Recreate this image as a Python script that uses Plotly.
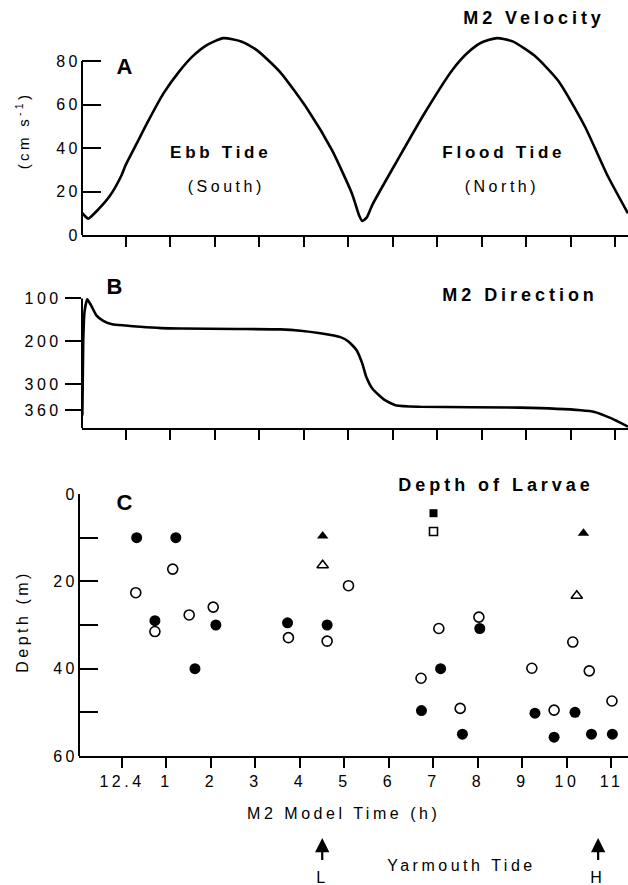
import plotly.graph_objects as go

# ---------------- data ----------------
# M2 model time in hours (12.4 == 0)
tick_hours = list(range(12))
tick_labels = ["12.4", "1", "2", "3", "4", "5", "6", "7", "8", "9", "10", "11"]

# Panel A: M2 velocity (cm/s)
vel_time = [-0.97, -0.90, -0.84, -0.60, -0.35, -0.10, 0.0, 0.25, 0.50, 0.85, 1.20, 1.50, 1.80,
            2.20, 2.60, 2.95, 3.47, 4.10, 4.64, 5.09, 5.25, 5.32, 5.42, 5.55, 6.10, 6.72,
            7.35, 7.70, 8.00, 8.35, 8.70, 9.19, 9.72, 10.32, 10.84, 11.29]
vel_cms = [10, 8.5, 7.5, 12, 18, 27, 32, 42, 52, 65, 75, 82, 87,
           90.5, 89, 85, 75, 57.5, 39, 19, 9, 6.5, 8, 14, 34, 56,
           76, 84, 88.5, 90.5, 89, 82.5, 71, 50, 27, 10]

# Panel B: M2 direction (degrees)
dir_time = [-0.97, -0.95, -0.92, -0.86, -0.78, -0.65, -0.50, -0.30, 0.0, 0.33, 0.80, 1.23, 2.50,
            3.48, 3.93, 4.38, 4.83, 5.01, 5.19, 5.32, 5.41, 5.55, 5.82, 6.09, 6.63, 8.88,
            10.23, 10.54, 10.92, 11.29]
dir_deg = [372, 200, 130, 102, 115, 140, 152, 160, 163, 166, 169, 170, 171,
           172, 175, 181, 190, 200, 220, 251, 282, 310, 336, 349, 352, 354,
           360, 364, 379, 398]

# Panel C: depth of larvae (m)
filled_circle_t = [0.33, 1.21, 0.74, 2.11, 1.64, 3.72, 4.61, 7.16, 6.73, 7.65, 8.04, 9.28, 9.71, 10.18, 10.55, 11.02]
filled_circle_d = [10, 10, 29, 30, 40, 29.5, 30, 40, 49.6, 55, 30.8, 50.2, 55.7, 50, 55, 55]
open_circle_t = [0.31, 1.14, 0.74, 1.51, 2.05, 3.74, 4.61, 5.09, 7.12, 6.72, 7.60, 8.02, 9.21, 9.71, 10.13, 10.50, 11.01]
open_circle_d = [22.6, 17.2, 31.5, 27.7, 25.9, 32.9, 33.7, 21, 30.8, 42.2, 49.1, 28.2, 39.9, 49.5, 33.9, 40.5, 47.4]
filled_tri_t = [4.51, 10.37]
filled_tri_d = [9.6, 9.0]
open_tri_t = [4.51, 10.22]
open_tri_d = [16.3, 23.3]
filled_sq_t = [7.0]
filled_sq_d = [4.4]
open_sq_t = [7.0]
open_sq_d = [8.6]

# Yarmouth tide marks
tide_marks = [("L", 4.5), ("H", 10.7)]

# ---------------- figure ----------------
W, H = 628, 885
FONT = "Liberation Sans, Arial, Helvetica, sans-serif"


def px(x):
    return x / W


def py(y):
    return 1 - y / H


fig = go.Figure()

fig.add_trace(go.Scatter(x=vel_time, y=vel_cms, mode="lines",
                         line=dict(color="black", width=2.6, shape="spline", smoothing=0.6),
                         xaxis="x", yaxis="y", showlegend=False, hoverinfo="skip"))
fig.add_trace(go.Scatter(x=dir_time, y=dir_deg, mode="lines",
                         line=dict(color="black", width=2.6, shape="spline", smoothing=0.5),
                         xaxis="x2", yaxis="y2", showlegend=False, hoverinfo="skip"))

marker_sets = [
    (filled_circle_t, filled_circle_d, dict(symbol="circle", size=11, color="black")),
    (open_circle_t, open_circle_d, dict(symbol="circle-open", size=10, color="black", line=dict(width=1.6))),
    (filled_tri_t, filled_tri_d, dict(symbol="triangle-up", size=10, color="black")),
    (open_tri_t, open_tri_d, dict(symbol="triangle-up-open", size=10, color="black", line=dict(width=1.5))),
    (filled_sq_t, filled_sq_d, dict(symbol="square", size=8, color="black")),
    (open_sq_t, open_sq_d, dict(symbol="square-open", size=8, color="black", line=dict(width=1.6))),
]
for t, d, m in marker_sets:
    fig.add_trace(go.Scatter(x=t, y=d, mode="markers", marker=m, xaxis="x3", yaxis="y3",
                             showlegend=False, hoverinfo="skip"))

xcommon = dict(tickvals=tick_hours, ticks="outside", ticklen=10, tickwidth=2, tickcolor="black",
               showline=True, linewidth=2, linecolor="black", showgrid=False, zeroline=False,
               automargin=False, fixedrange=True)
ycommon = dict(tickwidth=2, tickcolor="black", showline=False, showgrid=False, zeroline=False,
               automargin=False, fixedrange=True, tickfont=dict(size=16, color="black"))

fig.update_layout(
    width=W, height=H, margin=dict(l=0, r=0, t=0, b=0),
    paper_bgcolor="white", plot_bgcolor="white",
    font=dict(family=FONT, color="black", size=15),
    xaxis=dict(domain=[px(82), 1], range=[-0.9775, 11.292], anchor="y", showticklabels=False, **xcommon),
    yaxis=dict(domain=[py(235), py(30)], range=[0, 94.25], anchor="x",
               tickvals=[0, 20, 40, 60, 80], ticks="inside", ticklen=19, **ycommon),
    xaxis2=dict(domain=[px(82), 1], range=[-0.9775, 11.292], anchor="y2", showticklabels=False, **xcommon),
    yaxis2=dict(domain=[py(428.3), py(290)], range=[402, 80.4], anchor="x2",
                tickvals=[100, 200, 300, 360], ticks="outside", ticklen=16, **ycommon),
    xaxis3=dict(domain=[px(79), 1], range=[-0.966, 11.371], anchor="y3", showticklabels=True,
                ticktext=tick_labels, tickfont=dict(size=16, color="black"), **xcommon),
    yaxis3=dict(domain=[py(756), py(494)], range=[60, 0], anchor="x3",
                tickvals=[0, 20, 40, 60], ticks="inside", ticklen=19,
                minor=dict(tickvals=[10, 30, 50], ticks="inside", ticklen=19, tickwidth=2,
                           tickcolor="black", showgrid=False),
                **ycommon),
)

# y-axis lines (only over the labelled span)
for xr, yr, y0, y1 in [("x domain", "y", 0, 80), ("x2 domain", "y2", 100, 402), ("x3 domain", "y3", 0, 60)]:
    fig.add_shape(type="line", xref=xr, yref=yr, x0=0, x1=0, y0=y0, y1=y1,
                  line=dict(color="black", width=2))


def txt(s, x, y, size, angle=0):
    fig.add_annotation(text=s, x=px(x), y=py(y), xref="paper", yref="paper", showarrow=False,
                       xanchor="center", yanchor="middle", textangle=angle,
                       font=dict(size=size, color="black", family=FONT))


txt("<b>M2 Velocity</b>", 534, 18, 18)
txt("<b>A</b>", 127, 67, 22)
txt("<b>Ebb Tide</b>", 220, 153, 17)
txt("(South)", 226, 186, 16)
txt("<b>Flood Tide</b>", 504, 153, 17)
txt("(North)", 502, 186, 16)
txt("(cm s<sup>-1</sup>)", 22, 131, 15, -90)
txt("<b>B</b>", 117, 286, 22)
txt("<b>M2 Direction</b>", 520, 295, 18)
txt("<b>C</b>", 127, 502, 22)
txt("<b>Depth of Larvae</b>", 496, 485, 18)
txt("Depth (m)", 22, 622, 16, -90)
txt("M2 Model Time (h)", 343, 813, 16)
txt("Yarmouth Tide", 462, 865, 16)

for lab, t in tide_marks:
    fig.add_annotation(text=lab, x=t, y=py(838), xref="x3", yref="paper", showarrow=True,
                       ax=0, ay=39, arrowhead=2, arrowsize=1.3, arrowwidth=2.2, arrowcolor="black",
                       startstandoff=7, font=dict(size=16, color="black", family=FONT))

post = """
(function(){
  var gd = document.getElementById('{plot_id}');
  function sp(){
    var ts = gd.querySelectorAll('svg text');
    for (var i = 0; i < ts.length; i++) { ts[i].style.letterSpacing = '0.22em'; }
  }
  sp();
  if (gd.on) { gd.on('plotly_afterplot', sp); }
})();
"""

fig.write_html("out.html", config={"displayModeBar": False}, post_script=post)
